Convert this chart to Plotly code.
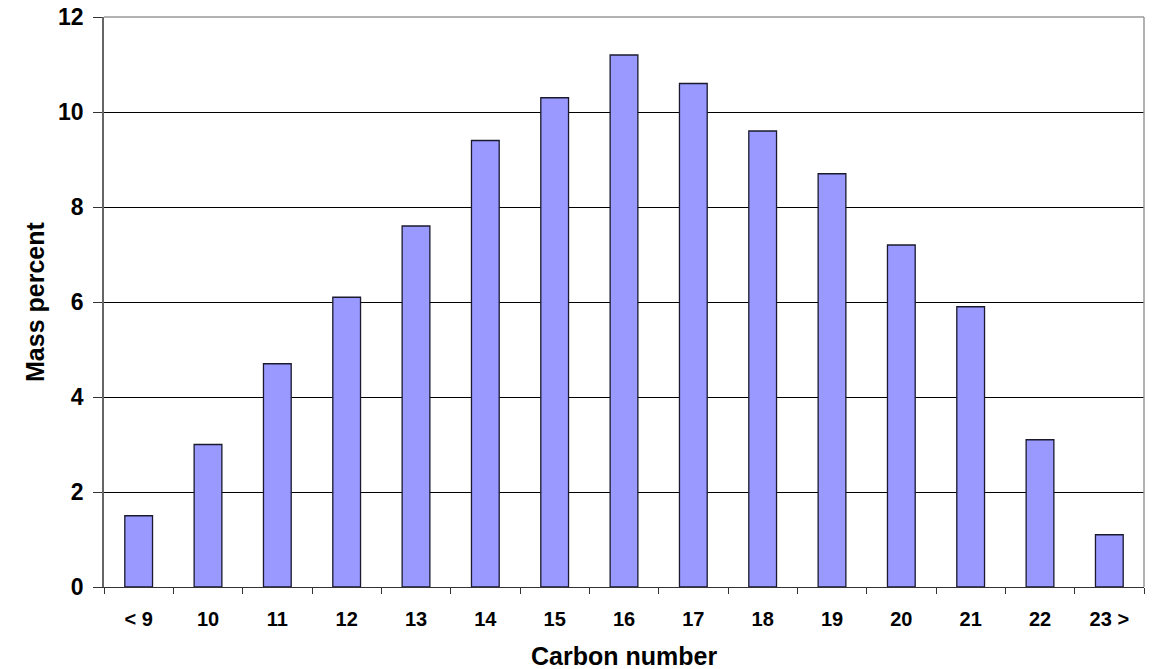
import plotly.graph_objects as go

categories = ["< 9", "10", "11", "12", "13", "14", "15", "16", "17", "18", "19", "20", "21", "22", "23 >"]
mass_percent = [1.5, 3.0, 4.7, 6.1, 7.6, 9.4, 10.3, 11.2, 10.6, 9.6, 8.7, 7.2, 5.9, 3.1, 1.1]
y_ticks = [0, 2, 4, 6, 8, 10, 12]

font_family = "Liberation Sans, Arial, sans-serif"

fig = go.Figure()
fig.add_trace(go.Bar(
    x=categories,
    y=mass_percent,
    width=0.4,
    marker=dict(color="#9999FF", line=dict(color="#1a1a2e", width=1.3)),
))

fig.update_layout(
    width=1153,
    height=669,
    margin=dict(l=104, r=9, t=17, b=82),
    paper_bgcolor="white",
    plot_bgcolor="white",
    showlegend=False,
    font=dict(family=font_family, color="black"),
    bargap=0.6,
)

fig.update_xaxes(
    type="category",
    ticks="outside",
    tickson="boundaries",
    ticklen=6,
    tickcolor="#333333",
    tickwidth=1.3,
    showline=True,
    linecolor="#333333",
    linewidth=1.3,
    showgrid=False,
    automargin=False,
    tickfont=dict(family=font_family, size=20, color="black", weight="bold"),
    ticklabelstandoff=14,
)

fig.update_yaxes(
    range=[0, 12],
    tickvals=y_ticks,
    ticks="outside",
    ticklen=9,
    tickcolor="#333333",
    tickwidth=1.3,
    showline=True,
    linecolor="#666666",
    linewidth=1.5,
    showgrid=True,
    gridcolor="black",
    gridwidth=1.2,
    zeroline=False,
    automargin=False,
    tickfont=dict(family=font_family, size=23, color="black", weight="bold"),
    ticklabelstandoff=5,
)

# axis titles
fig.add_annotation(text="<b>Carbon number</b>", xref="paper", yref="paper", x=0.5, y=0,
                   xanchor="center", yanchor="middle", yshift=-69, showarrow=False,
                   font=dict(family=font_family, size=25, color="black"))
fig.add_annotation(text="<b>Mass percent</b>", xref="paper", yref="paper", x=0, y=0.5,
                   xanchor="center", yanchor="middle", xshift=-69, textangle=-90, showarrow=False,
                   font=dict(family=font_family, size=25, color="black"))

# gray frame on top and right
fig.add_shape(type="line", xref="paper", yref="paper", x0=0, x1=1, y0=1, y1=1,
              line=dict(color="#999999", width=1.5), layer="above")
fig.add_shape(type="line", xref="paper", yref="paper", x0=1, x1=1, y0=0, y1=1,
              line=dict(color="#999999", width=1.5), layer="above")

fig.write_html("out.html")
